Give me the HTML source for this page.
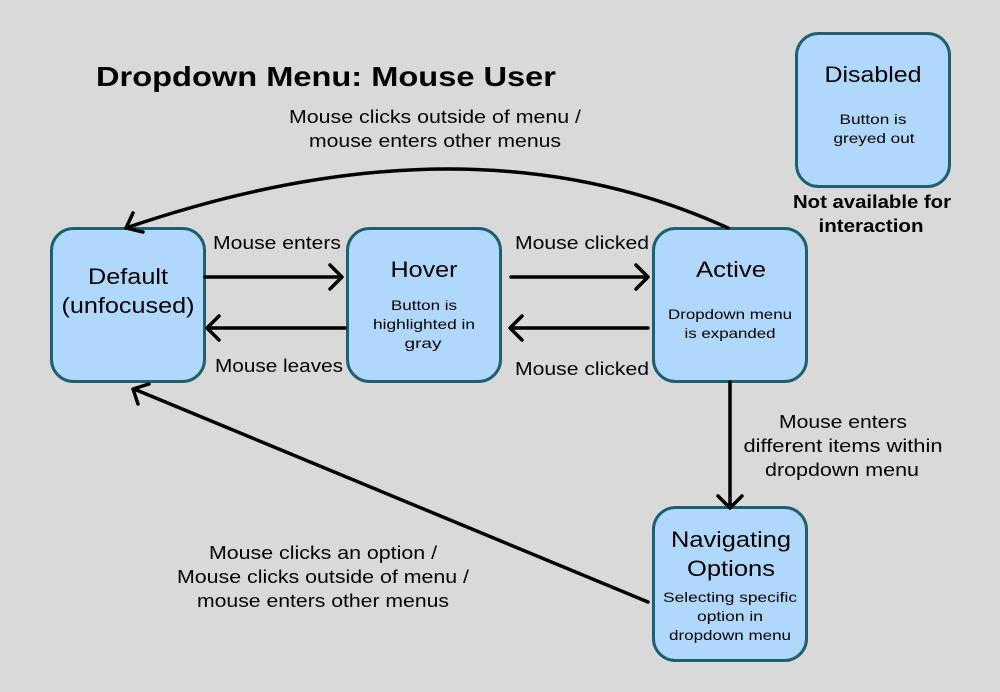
<!DOCTYPE html>
<html><head><style>body{margin:0;background:#d9d9d9}svg{display:block}</style></head>
<body>
<svg width="1000" height="692" viewBox="0 0 1000 692" xmlns="http://www.w3.org/2000/svg" font-family="Liberation Sans, sans-serif">
<rect width="1000" height="692" fill="#d9d9d9"/>
<g fill="#b0d8fc" stroke="#1f6070" stroke-width="3">
<rect x="51.5" y="228.5" width="153" height="153" rx="22"/>
<rect x="347.5" y="228.5" width="153" height="153" rx="22"/>
<rect x="653.5" y="228.5" width="153" height="153" rx="22"/>
<rect x="653.5" y="507.5" width="153" height="153" rx="22"/>
<rect x="796.5" y="33.5" width="153" height="153" rx="22"/>
</g>
<g stroke="#000" stroke-width="3.5" fill="none" stroke-linecap="round" stroke-linejoin="round">
<path d="M205 277 H340 M330 265 L342 277 L330 289"/>
<path d="M345 328 H208 M219 316 L207 328 L219 340"/>
<path d="M511 277 H646 M636 265 L648 277 L636 289"/>
<path d="M648 328 H511 M522 316 L510 328 L522 340"/>
<path d="M730 382 V507 M718 496 L730 508 L742 496"/>
<path d="M728 228 Q470 110 126 228 M133 213 L126 228 L143 232"/>
<path d="M648 602 L134 389 M138 404 L133 389 L149 384"/>
</g>
<g fill="#000" text-anchor="middle" lengthAdjust="spacingAndGlyphs">
<text x="326" y="86" font-size="28" font-weight="bold" textLength="460" lengthAdjust="spacingAndGlyphs">Dropdown Menu: Mouse User</text>
<text x="435" y="123" font-size="18" textLength="292" lengthAdjust="spacingAndGlyphs">Mouse clicks outside of menu /</text>
<text x="435" y="147" font-size="18" textLength="252" lengthAdjust="spacingAndGlyphs">mouse enters other menus</text>
<text x="277" y="249" font-size="18" textLength="128" lengthAdjust="spacingAndGlyphs">Mouse enters</text>
<text x="279" y="372" font-size="18" textLength="128" lengthAdjust="spacingAndGlyphs">Mouse leaves</text>
<text x="582" y="249" font-size="18" textLength="134" lengthAdjust="spacingAndGlyphs">Mouse clicked</text>
<text x="582" y="375" font-size="18" textLength="134" lengthAdjust="spacingAndGlyphs">Mouse clicked</text>
<text x="843" y="428" font-size="18" textLength="128" lengthAdjust="spacingAndGlyphs">Mouse enters</text>
<text x="843" y="452" font-size="18" textLength="199" lengthAdjust="spacingAndGlyphs">different items within</text>
<text x="842" y="476" font-size="18" textLength="154" lengthAdjust="spacingAndGlyphs">dropdown menu</text>
<text x="323" y="559" font-size="18" textLength="228" lengthAdjust="spacingAndGlyphs">Mouse clicks an option /</text>
<text x="323" y="583" font-size="18" textLength="292" lengthAdjust="spacingAndGlyphs">Mouse clicks outside of menu /</text>
<text x="323" y="607" font-size="18" textLength="252" lengthAdjust="spacingAndGlyphs">mouse enters other menus</text>
<text x="128" y="284" font-size="22" textLength="80" lengthAdjust="spacingAndGlyphs">Default</text>
<text x="128" y="313" font-size="22" textLength="133" lengthAdjust="spacingAndGlyphs">(unfocused)</text>
<text x="424" y="277" font-size="22" textLength="67" lengthAdjust="spacingAndGlyphs">Hover</text>
<text x="424" y="310" font-size="14" textLength="66" lengthAdjust="spacingAndGlyphs">Button is</text>
<text x="424" y="329" font-size="14" textLength="102" lengthAdjust="spacingAndGlyphs">highlighted in</text>
<text x="423" y="348" font-size="14" textLength="37" lengthAdjust="spacingAndGlyphs">gray</text>
<text x="731" y="277" font-size="22" textLength="70" lengthAdjust="spacingAndGlyphs">Active</text>
<text x="730" y="319" font-size="14" textLength="124" lengthAdjust="spacingAndGlyphs">Dropdown menu</text>
<text x="730" y="338" font-size="14" textLength="91" lengthAdjust="spacingAndGlyphs">is expanded</text>
<text x="731" y="547" font-size="22" textLength="120" lengthAdjust="spacingAndGlyphs">Navigating</text>
<text x="731" y="576" font-size="22" textLength="88" lengthAdjust="spacingAndGlyphs">Options</text>
<text x="730" y="602" font-size="14" textLength="134" lengthAdjust="spacingAndGlyphs">Selecting specific</text>
<text x="730" y="621" font-size="14" textLength="66" lengthAdjust="spacingAndGlyphs">option in</text>
<text x="730" y="640" font-size="14" textLength="122" lengthAdjust="spacingAndGlyphs">dropdown menu</text>
<text x="873" y="82" font-size="22" textLength="97" lengthAdjust="spacingAndGlyphs">Disabled</text>
<text x="873" y="124" font-size="14" textLength="67" lengthAdjust="spacingAndGlyphs">Button is</text>
<text x="874" y="143" font-size="14" textLength="81" lengthAdjust="spacingAndGlyphs">greyed out</text>
<text x="872" y="208" font-size="18" font-weight="bold" textLength="158" lengthAdjust="spacingAndGlyphs">Not available for</text>
<text x="871" y="232" font-size="18" font-weight="bold" textLength="105" lengthAdjust="spacingAndGlyphs">interaction</text>
</g>
</svg>
</body></html>
